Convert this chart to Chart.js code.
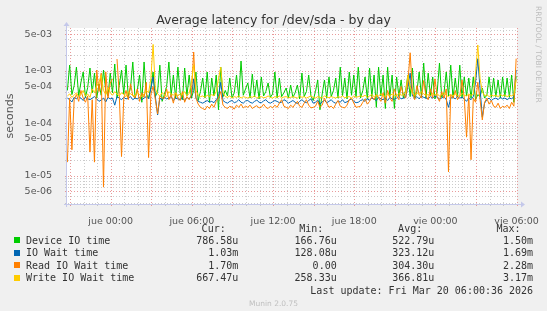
<!DOCTYPE html>
<html><head><meta charset="utf-8">
<script src="https://cdn.jsdelivr.net/npm/chart.js@4.4.1/dist/chart.umd.min.js"></script>
<style>
html,body{margin:0;padding:0;background:#f0f0f0;}
#wrap{position:relative;width:547px;height:311px;overflow:hidden;background:#f0f0f0;}
#c{position:absolute;left:0;top:0;}
.tx{position:absolute;white-space:pre;}
#title{left:0;width:547px;text-align:center;top:12px;font:12.5px/15px "DejaVu Sans";color:#333;}
#wm{left:533px;top:6px;writing-mode:vertical-rl;font:7.5px/10px "DejaVu Sans";color:#bdbdbd;}
.lg{font:10px/12px "DejaVu Sans Mono";color:#333;}
.sq{position:absolute;width:6px;height:6px;}
#munin{left:0;width:547px;text-align:center;top:299px;font:7.5px/10px "DejaVu Sans";color:#c0c0c0;}
</style></head>
<body><div id="wrap"><canvas id="c" width="547" height="311"></canvas>
<div id="title" class="tx">Average latency for /dev/sda - by day</div>
<div id="wm" class="tx">RRDTOOL / TOBI OETIKER</div>
<div id="legend"></div>
<div id="munin" class="tx">Munin 2.0.75</div>
</div>
<script>
// ---- data (values in microseconds, 10-minute samples) ----
const startHour = -3.2;          // hours relative to "jue 00:00"
const stepHours = 1/6;
const deviceIO = [
420,1280,350,520,1170,330,600,945,310,480,
1126,380,900,300,560,340,1031,420,330,900,
380,1342,300,520,1031,360,1280,320,480,1466,
300,420,828,250,1466,360,300,480,945,320,
400,1280,260,350,500,1466,340,828,300,1170,
380,280,1126,330,828,300,420,945,270,400,
726,300,945,250,726,330,828,180,1170,320,
420,330,726,300,380,828,310,1530,340,450,
584,300,860,320,665,290,760,330,400,584,
310,360,945,300,726,320,380,468,300,533,
310,380,533,290,900,320,400,828,330,270,
400,665,180,360,665,300,760,320,420,726,
300,1170,330,726,290,945,340,828,320,1170,
300,420,760,290,1126,320,828,200,1170,330,
828,190,1170,320,828,190,760,330,665,300,
420,828,320,1126,290,400,945,320,1400,300,
900,330,760,290,400,1400,310,380,945,330,
1280,300,726,320,1280,300,760,330,726,300,
760,280,350,320,468,300,340,760,310,726,
320,665,300,760,320,726,310,828,250,787];
const ioWait = [
300,280,253,310,290,320,300,270,310,290,
280,300,320,290,260,276,300,253,310,290,
300,220,320,300,280,310,290,300,320,280,
300,290,310,280,300,320,290,450,760,320,
143,300,280,310,290,300,320,270,300,290,
280,300,270,310,290,330,700,300,260,250,
240,255,270,250,260,245,280,320,600,270,
250,240,260,270,245,255,280,250,240,265,
270,250,240,260,275,250,245,265,280,250,
240,255,270,260,245,250,280,265,240,255,
270,250,235,260,280,255,245,270,290,240,
250,275,230,255,270,245,260,280,250,240,
265,250,280,245,255,275,290,260,245,250,
270,280,260,290,275,300,285,270,310,290,
280,300,270,310,290,285,300,320,290,300,
310,500,900,330,300,320,290,330,310,300,
290,320,300,330,310,290,300,320,280,200,
300,310,290,320,300,310,290,260,300,280,
320,600,1690,450,130,240,280,300,270,290,
300,280,310,290,300,280,300,290,320,1030];
const readIOWait = [
18,300,31,280,350,260,420,300,250,330,
28,280,18,1030,400,900,6,950,300,580,
700,0,1670,350,23,300,420,280,560,330,
300,450,260,380,310,600,22,350,500,280,
150,330,300,300,450,280,350,240,380,300,
270,400,250,320,280,350,2276,300,230,200,
190,180,210,190,230,200,260,300,400,220,
200,190,210,200,185,220,200,230,195,210,
200,220,190,205,215,195,200,230,200,190,
210,195,220,200,240,280,210,200,190,220,
200,230,260,210,200,240,280,220,195,200,
210,260,200,220,300,240,200,210,190,230,
270,210,200,195,220,280,300,240,200,205,
210,250,290,230,260,320,280,350,300,260,
380,240,420,300,260,450,330,280,500,350,
300,600,2200,400,280,520,350,300,650,330,
280,450,300,700,320,260,400,300,450,11.7,
350,300,420,280,330,665,300,54,350,20,
300,250,600,280,115,250,300,230,270,210,
200,240,190,210,200,220,190,250,210,1700];
const writeIOWait = [
330,360,310,340,380,320,350,420,330,360,
310,450,380,520,600,830,420,350,480,380,
340,400,360,330,380,350,320,400,360,340,
330,380,350,320,360,420,380,700,3170,450,
360,330,380,350,320,400,360,340,380,330,
360,350,400,330,370,600,1300,420,340,320,
330,310,340,320,350,330,400,700,1170,380,
320,310,330,300,320,310,330,300,320,310,
300,320,310,330,300,315,320,305,310,330,
310,300,320,310,330,300,315,320,305,310,
320,310,300,330,310,320,300,315,330,310,
300,320,310,300,330,315,305,320,310,300,
320,310,330,305,315,320,300,330,310,320,
330,320,340,310,330,350,320,340,330,360,
340,320,350,330,360,340,330,370,340,350,
380,830,500,360,340,380,350,400,360,340,
350,330,370,340,360,330,350,380,340,320,
350,330,360,340,320,370,340,330,360,340,
350,900,3100,700,400,330,350,320,340,330,
340,320,350,330,345,320,340,330,350,667];

const seriesNames = ['Device IO time','IO Wait time','Read IO Wait time','Write IO Wait time'];
const seriesColors = ['#00CC00','#0066B3','#FF8000','#FFCC00'];
const curLabels = ['786.58u','1.03m','1.70m','667.47u'];
const minLabels = ['166.76u','128.08u','0.00','258.33u'];
const avgLabels = ['522.79u','323.12u','304.30u','366.81u'];
const maxLabels = ['1.50m','1.69m','2.28m','3.17m'];
const headLabels = ['Cur:','Min:','Avg:','Max:'];
const lastUpdate = 'Last update: Fri Mar 20 06:00:36 2026';

const xTickHours = [0,6,12,18,24,30];
const xTickLabels = ['jue 00:00','jue 06:00','jue 12:00','jue 18:00','vie 00:00','vie 06:00'];
const yTickValues = [5e-3,1e-3,5e-4,1e-4,5e-5,1e-5,5e-6];
const yTickLabels = ['5e-03','1e-03','5e-04','1e-04','5e-05','1e-05','5e-06'];

const X_MIN = -3.23, X_MAX = 30.03;
const Y_MIN = 2.86e-6, Y_MAX = 6.53e-3;

// ---- legend ----
const lg = document.getElementById('legend');
function addText(txt, rightEdge, center, leftEdge){
  const d = document.createElement('div');
  d.className = 'tx lg';
  d.textContent = txt;
  if (leftEdge !== undefined) d.style.left = leftEdge + 'px';
  else d.style.right = (547 - rightEdge) + 'px';
  d.style.top = (center - 5.8) + 'px';
  lg.appendChild(d);
}
const rowCenters = [240.4, 252.9, 265.4, 277.9];
const colRights = [238.3, 336.7, 434.4, 533.1];
const headRights = [225.7, 323.4, 422.2, 520.6];
headLabels.forEach((h,i)=>addText(h, headRights[i], 228.5));
seriesNames.forEach((n,i)=>{
  const sq = document.createElement('div');
  sq.className='sq'; sq.style.left='14px'; sq.style.top=(rowCenters[i]-3)+'px';
  sq.style.background = seriesColors[i];
  lg.appendChild(sq);
  addText(n, 0, rowCenters[i], 26);
  addText(curLabels[i], colRights[0], rowCenters[i]);
  addText(minLabels[i], colRights[1], rowCenters[i]);
  addText(avgLabels[i], colRights[2], rowCenters[i]);
  addText(maxLabels[i], colRights[3], rowCenters[i]);
});
addText(lastUpdate, 533.1, 290.4);

// ---- chart ----
const times = deviceIO.map((_, i) => startHour + i * stepHours);
const toPts = arr => arr.map((v,i)=>({x: times[i], y: v/1e6}));
const allSeries = [deviceIO, ioWait, readIOWait, writeIOWait];

const MAJOR = 'rgba(225,120,120,0.75)';
const MINOR = 'rgba(170,170,170,0.6)';
const AXIS = '#c4c8ea';

const rrdPlugin = {
  id: 'rrd',
  beforeDatasetsDraw(chart){
    const {ctx, chartArea:a, scales:{x, y}} = chart;
    ctx.save();
    ctx.fillStyle = '#ffffff';
    ctx.fillRect(a.left, a.top, a.right - a.left, a.bottom - a.top);
    ctx.lineWidth = 1;
    ctx.setLineDash([1,2]);
    const passes = [false, true];
    passes.forEach(major => {
      ctx.strokeStyle = major ? MAJOR : MINOR;
      for (let e = -6; e <= -2; e++) {
        for (let m = 1; m <= 9; m++) {
          const isMaj = (m === 1 || m === 5);
          if (isMaj !== major) continue;
          const v = m * Math.pow(10, e);
          if (v < y.min || v > y.max) continue;
          const py = Math.round(y.getPixelForValue(v)) + 0.5;
          ctx.beginPath(); ctx.moveTo(a.left - 2, py); ctx.lineTo(a.right, py); ctx.stroke();
        }
      }
      for (let h = Math.ceil(x.min); h <= x.max; h++) {
        const isMaj = (((h % 3) + 3) % 3) === 0;
        if (isMaj !== major) continue;
        const px = Math.round(x.getPixelForValue(h)) + 0.5;
        ctx.beginPath(); ctx.moveTo(px, a.top); ctx.lineTo(px, a.bottom + 3); ctx.stroke();
      }
    });
    ctx.restore();
  },
  afterDatasetsDraw(chart){
    const {ctx, chartArea:a} = chart;
    ctx.save();
    ctx.strokeStyle = AXIS; ctx.fillStyle = AXIS; ctx.lineWidth = 1;
    const by = Math.round(a.bottom) + 0.5, lx = Math.round(a.left) - 0.5;
    ctx.beginPath(); ctx.moveTo(a.left - 3, by); ctx.lineTo(a.right + 4, by); ctx.stroke();
    ctx.beginPath(); ctx.moveTo(a.right + 4, by - 3); ctx.lineTo(a.right + 8, by); ctx.lineTo(a.right + 4, by + 3); ctx.closePath(); ctx.fill();
    ctx.beginPath(); ctx.moveTo(lx, a.bottom + 3); ctx.lineTo(lx, a.top - 2); ctx.stroke();
    ctx.beginPath(); ctx.moveTo(lx - 3, a.top - 2); ctx.lineTo(lx, a.top - 6); ctx.lineTo(lx + 3, a.top - 2); ctx.closePath(); ctx.fill();
    ctx.restore();
  }
};

new Chart(document.getElementById('c'), {
  type: 'line',
  data: {
    datasets: allSeries.map((s, i) => ({
      label: seriesNames[i],
      data: toPts(s),
      borderColor: seriesColors[i],
      backgroundColor: seriesColors[i],
      borderWidth: 1,
      pointRadius: 0,
      tension: 0,
      fill: false,
      order: 4 - i
    }))
  },
  options: {
    responsive: false,
    animation: false,
    events: [],
    layout: { padding: { left: 0, right: 30, top: 28, bottom: 0 } },
    plugins: { legend: { display: false }, tooltip: { enabled: false }, title: { display: false } },
    scales: {
      x: {
        type: 'linear', min: X_MIN, max: X_MAX, bounds: 'data',
        afterFit(s){ s.height = 311 - 204; },
        afterBuildTicks(s){ s.ticks = xTickHours.map(v => ({value: v})); },
        grid: { display: false }, border: { display: false },
        ticks: { autoSkip: false, maxRotation: 0, minRotation: 0, padding: 4, color: '#555',
          font: { family: 'DejaVu Sans', size: 9.5 },
          callback: (v, i) => xTickLabels[i] }
      },
      y: {
        type: 'logarithmic', min: Y_MIN, max: Y_MAX, bounds: 'data',
        afterFit(s){ s.width = 67; },
        afterBuildTicks(s){ s.ticks = yTickValues.map(v => ({value: v})); },
        grid: { display: false }, border: { display: false },
        ticks: { autoSkip: false, padding: 7, color: '#555',
          font: { family: 'DejaVu Sans', size: 9.5 },
          callback: (v, i) => yTickLabels[i] },
        title: { display: true, text: 'seconds', color: '#555',
          font: { family: 'DejaVu Sans', size: 11 }, padding: { top: 4, bottom: 4 } }
      }
    }
  },
  plugins: [rrdPlugin]
});
</script>
</body></html>
